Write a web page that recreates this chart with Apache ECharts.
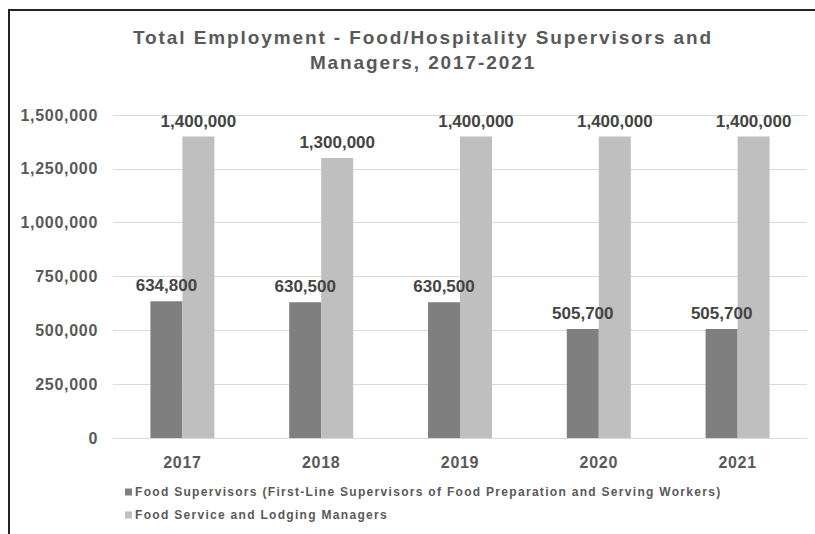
<!DOCTYPE html>
<html>
<head>
<meta charset="utf-8">
<script src="https://cdn.jsdelivr.net/npm/echarts@6/dist/echarts.min.js"></script>
<style>
  html, body { margin: 0; padding: 0; background: #fff; }
  #wrap { position: relative; width: 815px; height: 534px; }
  #chart { position: absolute; left: 0; top: 0; width: 815px; height: 534px; }
  #frame { position: absolute; left: 8px; top: 9px; right: -4px; bottom: -4px;
           border-left: 2px solid #222; border-top: 2px solid #222; pointer-events: none; }
  /* loose tracking for the title, axis and legend text */
  #chart svg text[style*="19px"] { letter-spacing: 1.9px; }
  #chart svg text[style*="16px"] { letter-spacing: 0.7px; }
  #chart svg text[style*="12px"] { letter-spacing: 1.3px; }
</style>
</head>
<body>
<div id="wrap">
  <div id="chart"></div>
  <div id="frame"></div>
</div>
<script>
const years = ['2017', '2018', '2019', '2020', '2021'];
const supervisorsName = 'Food Supervisors (First-Line Supervisors of Food Preparation and Serving Workers)';
const managersName = 'Food Service and Lodging Managers';
const supervisors = [634800, 630500, 630500, 505700, 505700];
const managers = [1400000, 1300000, 1400000, 1400000, 1400000];
const yTicks = { min: 0, max: 1500000, interval: 250000 };

const FONT = '"Liberation Sans", Arial, Helvetica, sans-serif';
const fmt = v => Number(v).toLocaleString('en-US');

const chart = echarts.init(document.getElementById('chart'), null, { renderer: 'svg' });

const barLabel = {
  show: true,
  position: 'top',
  distance: 7,
  fontFamily: FONT,
  fontWeight: 'bold',
  fontSize: 17,
  color: '#444',
  formatter: p => fmt(p.value)
};

chart.setOption({
  animation: false,
  backgroundColor: '#fff',
  title: {
    text: 'Total Employment - Food/Hospitality Supervisors and\nManagers, 2017-2021',
    left: 418,
    top: 20,
    textAlign: 'center',
    textStyle: {
      fontFamily: FONT,
      fontWeight: 'bold',
      fontSize: 19,
      lineHeight: 25,
      color: '#595959'
    }
  },
  legend: {
    orient: 'vertical',
    left: 125,
    top: 486,
    padding: 0,
    itemWidth: 7,
    itemHeight: 7,
    itemGap: 11,
    icon: 'rect',
    textStyle: {
      fontFamily: FONT,
      fontWeight: 'bold',
      fontSize: 12,
      color: '#595959',
      padding: [0, 0, 0, -2]
    },
    data: [supervisorsName, managersName]
  },
  grid: { left: 113, right: 8, top: 115, bottom: 96, containLabel: false },
  xAxis: {
    type: 'category',
    data: years,
    axisLine: { show: true, lineStyle: { color: '#d9d9d9', width: 1 } },
    axisTick: { show: false },
    axisLabel: {
      margin: 16,
      fontFamily: FONT,
      fontWeight: 'bold',
      fontSize: 16,
      color: '#595959'
    }
  },
  yAxis: {
    type: 'value',
    min: yTicks.min,
    max: yTicks.max,
    interval: yTicks.interval,
    axisLine: { show: false },
    axisTick: { show: false },
    splitLine: { lineStyle: { color: '#d9d9d9', width: 1 } },
    axisLabel: {
      margin: 15,
      fontFamily: FONT,
      fontWeight: 'bold',
      fontSize: 16,
      color: '#595959',
      formatter: v => fmt(v)
    }
  },
  series: [
    {
      name: supervisorsName,
      type: 'bar',
      data: supervisors,
      barWidth: 32,
      barGap: '0%',
      itemStyle: { color: '#7f7f7f' },
      label: barLabel
    },
    {
      name: managersName,
      type: 'bar',
      data: managers,
      barWidth: 32,
      barGap: '0%',
      itemStyle: { color: '#bfbfbf' },
      label: barLabel
    }
  ]
});
</script>
</body>
</html>
